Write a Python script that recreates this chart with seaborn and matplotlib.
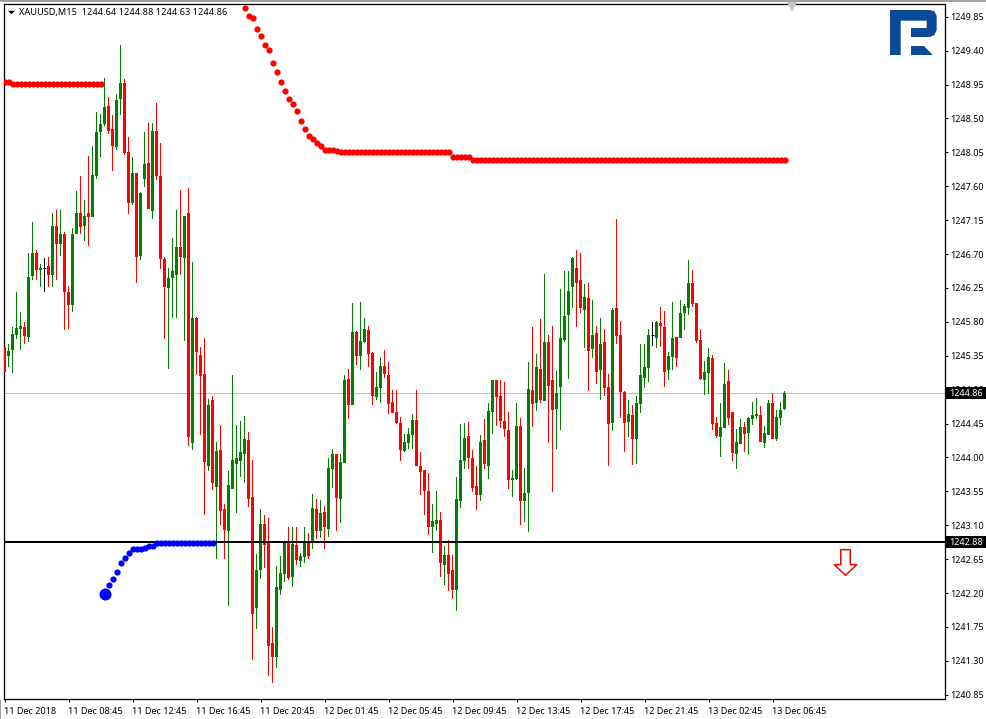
import numpy as np
import pandas as pd
import matplotlib
matplotlib.use("Agg")
import matplotlib.pyplot as plt
from matplotlib.path import Path
from matplotlib.patches import Polygon, Rectangle
from matplotlib.transforms import Affine2D, ScaledTranslation
import seaborn as sns

open_ = [1245.47,1245.35,1245.43,1245.63,1245.71,1245.73,1245.60,1246.41,1246.72,1246.49,
1246.52,1246.54,1246.42,1247.07,1246.83,1246.97,1246.20,1246.03,1246.96,1247.25,
1247.07,1247.25,1247.19,1247.73,1248.32,1248.43,1248.67,1248.36,1248.12,1248.76,
1248.97,1248.06,1247.38,1247.78,1246.68,1247.70,1247.91,1247.27,1248.34,1247.74,
1246.64,1246.25,1246.38,1246.42,1246.80,1246.65,1247.25,1244.19,1245.85,1245.36,
1245.11,1243.88,1244.76,1243.61,1244.10,1243.32,1243.02,1243.58,1243.91,1243.95,
1244.05,1244.23,1243.48,1242.00,1242.51,1243.12,1242.88,1241.53,1241.35,1242.24,
1242.45,1242.89,1242.41,1242.84,1242.63,1242.68,1242.88,1242.88,1243.32,1243.02,
1243.28,1243.05,1243.85,1244.05,1243.45,1243.93,1245.04,1244.69,1245.67,1245.35,
1245.53,1245.69,1245.39,1244.80,1244.92,1245.21,1245.10,1244.74,1244.60,1244.46,
1244.09,1244.19,1244.30,1244.50,1243.89,1243.83,1243.56,1243.07,1243.12,1243.17,
1242.57,1242.70,1242.51,1242.24,1243.42,1243.95,1244.29,1243.99,1243.62,1243.50,
1244.23,1243.88,1244.60,1245.03,1244.82,1244.49,1244.37,1243.70,1243.71,1244.42,
1243.42,1243.53,1244.90,1244.72,1245.18,1244.75,1245.53,1245.03,1244.64,1244.94,
1245.56,1245.89,1246.26,1246.52,1246.36,1245.96,1246.12,1245.44,1245.65,1245.16,
1245.53,1244.94,1244.46,1245.99,1245.63,1244.87,1244.47,1244.57,1244.25,1244.71,
1245.06,1245.19,1245.63,1245.59,1245.79,1245.73,1245.16,1245.33,1245.60,1245.59,
1245.92,1245.99,1246.32,1246.05,1245.56,1245.03,1245.12,1245.32,1244.46,1244.27,
1244.39,1245.02,1244.60,1244.05,1244.18,1244.41,1244.33,1244.51,1244.55,1244.57,
1244.19,1244.30,1244.72,1244.25,1244.53,1244.64]

close = [1245.14,1245.41,1245.64,1245.72,1245.75,1245.61,1246.40,1246.72,1246.49,1246.52,
1246.52,1246.42,1247.07,1246.83,1246.97,1246.19,1246.03,1246.96,1247.25,1247.06,
1247.21,1247.19,1247.75,1248.32,1248.43,1248.65,1248.34,1248.14,1248.75,1248.97,
1248.04,1247.38,1247.78,1246.66,1247.51,1247.90,1247.30,1248.34,1247.73,1246.64,
1246.26,1246.38,1246.48,1246.80,1246.66,1247.21,1244.27,1245.85,1245.40,1245.08,
1243.94,1244.70,1243.66,1244.09,1243.29,1243.04,1243.64,1243.97,1243.99,1244.07,
1244.25,1243.45,1241.92,1242.51,1243.12,1242.84,1241.50,1241.35,1242.28,1242.47,
1242.88,1242.40,1242.85,1242.64,1242.69,1242.88,1242.69,1243.33,1243.02,1243.26,
1243.07,1243.86,1244.05,1243.46,1243.94,1245.03,1244.69,1245.67,1245.35,1245.55,
1245.71,1245.37,1244.82,1244.94,1245.21,1245.11,1244.71,1244.59,1244.46,1244.10,
1244.21,1244.31,1244.50,1243.88,1243.81,1243.56,1243.07,1243.16,1243.17,1242.60,
1242.70,1242.45,1242.24,1243.45,1243.97,1244.26,1243.99,1243.60,1243.50,1244.21,
1243.91,1244.62,1245.03,1244.80,1244.49,1244.38,1243.70,1243.73,1244.42,1243.42,
1243.53,1244.91,1244.71,1245.20,1244.76,1245.53,1244.95,1244.63,1244.86,1245.59,
1245.88,1246.21,1246.65,1246.32,1245.99,1246.13,1245.41,1245.63,1245.14,1245.51,
1244.92,1244.45,1245.96,1245.61,1244.87,1244.46,1244.58,1244.25,1244.72,1245.10,
1245.20,1245.63,1245.63,1245.80,1245.75,1245.14,1245.35,1245.59,1245.32,1245.92,
1246.01,1246.32,1246.04,1245.55,1245.04,1245.14,1245.33,1244.45,1244.29,1244.41,
1244.98,1244.53,1244.06,1244.21,1244.41,1244.31,1244.53,1244.57,1244.58,1244.21,
1244.33,1244.72,1244.25,1244.54,1244.63,1244.86]

high = [1245.49,1245.51,1245.73,1246.19,1245.93,1245.80,1246.72,1247.13,1246.76,1246.57,
1246.65,1246.66,1247.25,1247.29,1247.29,1246.99,1246.28,1247.05,1247.54,1247.73,
1247.42,1248.00,1248.14,1248.58,1248.56,1249.04,1248.79,1248.55,1248.83,1249.48,
1249.03,1248.26,1247.99,1247.78,1247.53,1248.32,1248.44,1248.44,1248.71,1248.18,
1246.66,1246.52,1246.91,1247.29,1247.55,1247.21,1247.58,1246.60,1245.87,1245.47,
1245.59,1244.78,1244.82,1244.21,1244.43,1243.38,1243.82,1245.10,1244.43,1244.49,
1244.55,1244.34,1243.97,1242.72,1243.32,1243.23,1243.20,1241.75,1242.56,1242.69,
1242.88,1243.07,1243.07,1243.07,1242.73,1243.07,1243.00,1243.52,1243.45,1243.44,
1243.36,1243.99,1244.11,1244.05,1244.05,1245.10,1245.18,1246.05,1245.68,1246.07,
1245.85,1245.75,1245.40,1245.14,1245.33,1245.43,1245.27,1244.90,1244.90,1244.54,
1244.31,1244.39,1244.58,1244.90,1244.07,1243.83,1243.79,1243.38,1243.56,1243.28,
1242.83,1242.91,1242.70,1243.74,1244.45,1244.46,1244.47,1244.10,1243.89,1244.30,
1244.51,1244.72,1245.03,1245.03,1245.03,1245.00,1244.60,1243.83,1244.72,1244.53,
1243.86,1245.27,1245.73,1245.37,1245.84,1246.44,1245.63,1245.75,1245.15,1246.24,
1246.48,1246.48,1246.66,1246.76,1246.72,1246.30,1246.32,1246.09,1245.75,1245.85,
1245.71,1245.11,1245.99,1247.17,1245.81,1244.88,1244.76,1244.70,1244.82,1245.51,
1245.51,1245.71,1245.80,1245.81,1246.00,1245.95,1245.40,1246.07,1245.60,1246.09,
1246.04,1246.62,1246.49,1246.05,1245.71,1245.28,1245.45,1245.36,1244.54,1244.72,
1245.26,1245.16,1244.60,1244.38,1244.51,1244.47,1244.54,1244.74,1244.79,1244.68,
1244.42,1244.76,1244.86,1244.63,1244.74,1244.88]

low = [1245.06,1245.20,1245.12,1245.57,1245.43,1245.51,1245.53,1246.35,1246.35,1246.26,
1246.19,1246.26,1246.26,1246.35,1246.68,1245.69,1245.71,1245.93,1246.96,1246.97,
1246.88,1246.81,1247.19,1247.70,1247.99,1248.40,1248.30,1247.80,1248.08,1248.55,
1248.02,1247.23,1247.35,1246.32,1246.62,1247.59,1247.30,1247.17,1247.68,1246.50,
1245.57,1245.18,1245.85,1245.85,1246.42,1245.55,1244.15,1244.10,1245.10,1244.30,
1243.24,1243.82,1243.57,1242.65,1243.10,1242.65,1242.03,1243.58,1243.26,1243.74,
1243.66,1243.34,1241.31,1241.72,1242.39,1242.53,1241.10,1241.01,1241.21,1242.17,
1242.35,1242.37,1242.28,1242.57,1242.55,1242.60,1242.65,1242.79,1242.92,1242.93,
1242.79,1242.94,1243.60,1243.02,1243.13,1243.93,1244.51,1244.69,1245.23,1245.16,
1245.52,1245.20,1244.69,1244.76,1244.72,1245.06,1244.58,1244.59,1244.45,1243.95,
1244.07,1244.11,1244.11,1243.88,1243.50,1243.23,1242.97,1242.73,1243.02,1242.41,
1242.31,1242.23,1242.12,1241.96,1243.33,1243.85,1243.85,1243.54,1243.30,1243.42,
1243.85,1243.71,1244.31,1244.42,1244.39,1244.27,1243.58,1243.48,1243.70,1243.10,
1243.14,1243.01,1244.41,1244.62,1244.72,1244.75,1244.19,1243.54,1244.11,1244.37,
1245.53,1245.04,1245.99,1245.73,1245.92,1245.45,1244.88,1245.32,1244.98,1244.76,
1244.82,1243.88,1244.35,1245.51,1244.53,1244.07,1244.27,1243.90,1243.91,1244.59,
1244.92,1245.00,1245.48,1245.45,1245.47,1244.94,1245.03,1245.16,1245.20,1245.59,
1245.69,1245.89,1246.00,1245.52,1245.03,1244.83,1244.84,1244.37,1244.26,1244.01,
1244.39,1244.43,1243.95,1243.85,1244.18,1244.07,1244.03,1244.43,1244.51,1244.21,
1244.13,1244.30,1244.25,1244.22,1244.43,1244.63]

stop_red_early = [1248.99, 1248.99] + [1248.96] * 23
stop_red_start = 60
stop_red_late = [1249.97,1249.86,1249.84,1249.69,1249.60,1249.47,1249.41,1249.24,1249.12,
                 1248.99,1248.87,1248.76,1248.69,1248.60,1248.47,1248.36,1248.27,1248.23,
                 1248.18,1248.14,1248.08,1248.08,1248.08,1248.07] \
                + [1248.06] * 28 + [1247.99] * 5 + [1247.95] * 79
stop_blue_start = 25
stop_blue = [1242.19,1242.30,1242.39,1242.48,1242.60,1242.67,1242.73,1242.79,1242.79,1242.79,
             1242.80,1242.83,1242.83] + [1242.86] * 15

bid_price = 1244.86
level_price = 1242.88
signal_bar, signal_price = 210, 1242.61

y_ticks = [1240.85,1241.30,1241.75,1242.20,1242.65,1243.10,1243.55,1244.00,1244.45,1244.90,
           1245.35,1245.80,1246.25,1246.70,1247.15,1247.60,1248.05,1248.50,1248.95,1249.40,1249.85]
x_tick_bars = [0,16,32,48,64,80,96,112,128,144,160,176,192]
x_tick_labels = ["11 Dec 2018","11 Dec 08:45","11 Dec 12:45","11 Dec 16:45","11 Dec 20:45",
                 "12 Dec 01:45","12 Dec 05:45","12 Dec 09:45","12 Dec 13:45","12 Dec 17:45",
                 "12 Dec 21:45","13 Dec 02:45","13 Dec 06:45"]
title = "XAUUSD,M15  1244.64 1244.88 1244.63 1244.86"

W, H = 986, 719
FONT = "Noto Sans"
sns.set_theme(style="white")
plt.rcParams["font.family"] = [FONT, "DejaVu Sans"]

fig = plt.figure(figsize=(W / 100, H / 100), dpi=100, facecolor="white")
ax = fig.add_axes([3.5 / W, (H - 699) / H, 941 / W, 695 / H], facecolor="white")
ax.set_xlim(-0.29, 234.96)
ax.set_ylim(1240.793, 1250.02)

px = 0.72
GREEN, RED = "#008000", "#ff0000"
df = pd.DataFrame({"bar": np.arange(len(open_)), "open": open_, "high": high, "low": low, "close": close})
df["color"] = np.where(df.close > df.open, GREEN, np.where(df.close < df.open, RED, "#000000"))

ax.axhline(bid_price, color="#c0c0c0", lw=1 * px, zorder=1)
for color, part in df.groupby("color"):
    ax.bar(part.bar.to_numpy(), (part.high - part.low).to_numpy(), bottom=part.low.to_numpy(), width=0.25,
           facecolor=color, edgecolor="none", linewidth=0, zorder=2, antialiased=False)
    ax.bar(part.bar.to_numpy(), (part.close - part.open).abs().to_numpy(),
           bottom=part[["open", "close"]].min(axis=1).to_numpy(), width=0.75,
           facecolor=color, edgecolor="none", linewidth=0, zorder=3, antialiased=False)
doji = df[df.close == df.open]
ax.hlines(doji.close.to_numpy(), doji.bar.to_numpy() - 0.375, doji.bar.to_numpy() + 0.375, colors="#000000",
          lw=1 * px, zorder=3)
ax.axhline(level_price, color="black", lw=2 * px, zorder=4)

red_df = pd.DataFrame({"bar": list(range(len(stop_red_early))) +
                              list(range(stop_red_start, stop_red_start + len(stop_red_late))),
                       "price": stop_red_early + stop_red_late})
blue_df = pd.DataFrame({"bar": range(stop_blue_start, stop_blue_start + len(stop_blue)), "price": stop_blue})
sns.scatterplot(data=red_df, x="bar", y="price", color="#ff0000", s=20, linewidth=0, ax=ax, zorder=5, legend=False)
sns.scatterplot(data=blue_df, x="bar", y="price", color="#0000ff", s=20, linewidth=0, ax=ax, zorder=5, legend=False)
ax.scatter(blue_df.bar.iloc[:1], blue_df.price.iloc[:1], color="#0000ff", s=75, linewidth=0, zorder=6)

arrow_marker = Path([(-.37, 1), (.37, 1), (.37, -.17), (.87, -.17), (0, -1), (-.87, -.17), (-.37, -.17), (-.37, 1)],
                    closed=True)
ax.plot([signal_bar], [signal_price], marker=arrow_marker, ms=18.5, mfc="white", mec="#ff0000", mew=1.1,
        ls="none", zorder=6)

ax.set_xlabel("")
ax.set_ylabel("")
for s in ax.spines.values():
    s.set_color("black")
    s.set_linewidth(1 * px * 1.3)

ax.yaxis.tick_right()
ax.set_yticks(y_ticks)
ax.set_yticklabels([f"{v:.2f}" for v in y_ticks], fontsize=6.5, color="black")
ax.tick_params(axis="y", direction="out", length=2.2, width=0.8, pad=1.6, colors="black", right=True, left=False)
ax.set_xticks(x_tick_bars)
ax.set_xticklabels(x_tick_labels, fontsize=6.5, color="black", ha="left")
ax.tick_params(axis="x", direction="out", length=2.5, width=0.8, pad=3.2, colors="black", bottom=True)
shift = ScaledTranslation(-1 / 100, 0, fig.dpi_scale_trans)
for lab in ax.get_xticklabels():
    lab.set_transform(lab.get_transform() + shift)

for price in (bid_price, level_price):
    tr = ax.get_yaxis_transform()
    ax.add_patch(Rectangle((1.0015, price - 0.078), 40.5 / 941, 0.156, transform=tr, color="black",
                           clip_on=False, zorder=7, linewidth=0))
    ax.text(1.0 + 5 / 941, price, f"{price:.2f}", transform=tr, color="white", fontsize=6.5,
            va="center_baseline", ha="left", zorder=8, clip_on=False)

# window furniture in pixel coordinates
to_px = Affine2D().scale(1, -1).translate(0, H)
fig.add_artist(Rectangle((0, 0), W, 2, transform=to_px, color="#a0a0a0", linewidth=0))
fig.add_artist(Rectangle((0, 700), 1, 19, transform=to_px, color="#a0a0a0", linewidth=0))

ax.text(15.5 / 941, 1 - 8.6 / 695, title, transform=ax.transAxes, fontsize=6.6, color="black",
        va="center", ha="left", zorder=8)
header_marker = Path([(-1, .5), (1, .5), (0, -.5), (-1, .5)], closed=True)
ax.plot([7 / 941], [1 - 8.2 / 695], marker=header_marker, ms=5.0, color="black", mew=0, transform=ax.transAxes, zorder=8)
ax.plot([788.5 / 941], [1 - 2.5 / 695], marker="v", ms=7.5, color="#c8c8c8", mew=0, transform=ax.transAxes,
        zorder=8, clip_on=False)

logo_color = "#0b4c9a"
logo_body = [(890, 10), (930, 10), (934.5, 11.5), (936.7, 16), (936.7, 30), (934.5, 35), (930, 37), (911, 37),
             (911, 28), (926.7, 28), (926.7, 20.7), (900.7, 20.7), (900.7, 55), (890, 55)]
logo_leg = [(911, 46), (924, 46), (932.7, 55), (911, 55)]
for poly in (logo_body, logo_leg):
    fig.add_artist(Polygon(poly, closed=True, transform=to_px, facecolor=logo_color, edgecolor="none", zorder=10))

fig.savefig("out.png", dpi=100, facecolor="white")
